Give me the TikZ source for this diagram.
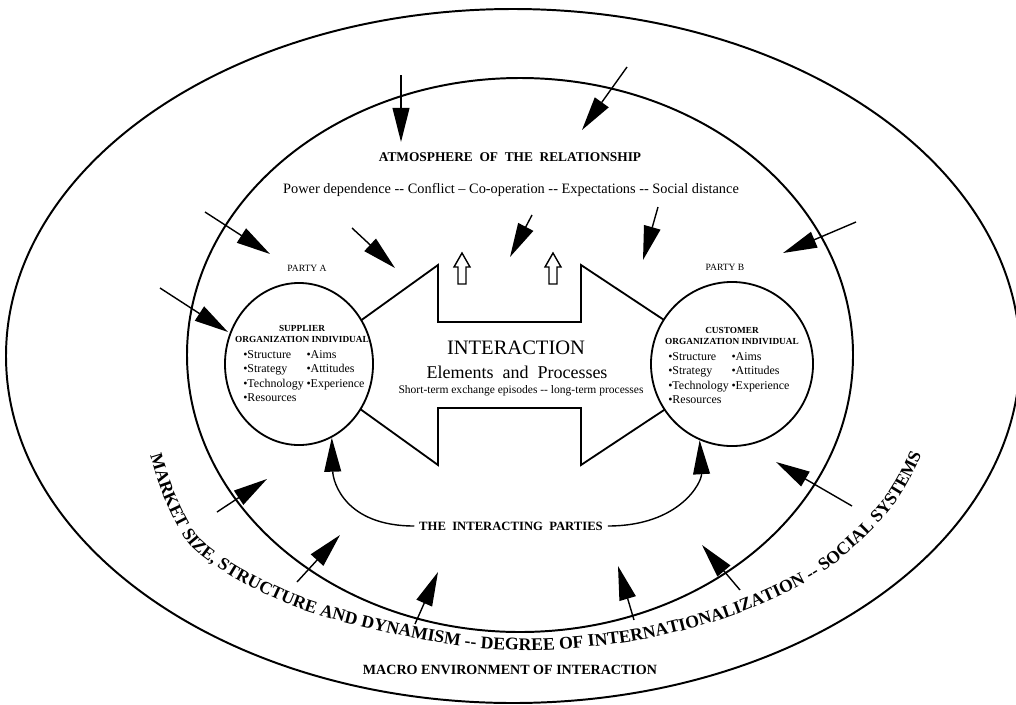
\documentclass[tikz,border=0pt]{standalone}
\usepackage{fontspec}
\setmainfont{Liberation Serif}
\usetikzlibrary{arrows.meta,decorations.text,shapes.geometric}

\newcommand\ringfont{\fontsize{12.6}{14}\selectfont\bfseries}

\begin{document}
\begin{tikzpicture}[x=0.025cm,y=-0.025cm,
    ring/.style={line width=1.4pt},
    party/.style={draw,ellipse,line width=1.3pt,fill=white,inner sep=0pt},
    infl/.style={line width=1pt,-{Triangle[length=0.85cm,width=0.42cm]}},
    small/.style={font=\fontsize{6.8}{8}\selectfont},
    head/.style={font=\fontsize{6.6}{7.3}\selectfont\bfseries,align=center},
    items/.style={font=\fontsize{8.5}{10.3}\selectfont,anchor=north west,inner sep=0pt}]
\useasboundingbox (0,0) rectangle (1016,704);

% environment and atmosphere
\draw[ring] (513,356) ellipse [x radius=507,y radius=347];
\draw[ring] (520,355) ellipse [x radius=333,y radius=277];

% the interaction arrow
\draw[line width=1.3pt] (299,365) -- (438,265) -- (438,322) -- (581,322) -- (581,265)
    -- (732,365) -- (581,465) -- (581,408) -- (438,408) -- (438,465) -- cycle;
\foreach \hx in {462,553}
    \draw[line width=1pt] (\hx,253) -- ++(8,14) -- ++(-4,0) -- ++(0,17) -- ++(-8,0)
        -- ++(0,-17) -- ++(-4,0) -- cycle;

% the parties
\node[party,minimum width=3.7cm,minimum height=4.05cm] (supplier) at (299,364) {};
\node[party,minimum width=4.05cm,minimum height=4.1cm] (customer) at (732,364) {};
\node[small] (labA) at (307,268) {PARTY A};
\node[small] (labB) at (725,267) {PARTY B};
\node[head] (headA) at (302,334) {SUPPLIER\\ORGANIZATION INDIVIDUAL};
\node[head] (headB) at (732,336) {CUSTOMER\\ORGANIZATION INDIVIDUAL};
\node[items] (listA) at (243,348) {\begin{tabular}{@{}l@{\hspace{2pt}}l@{}}
    •Structure&•Aims\\•Strategy&•Attitudes\\•Technology&•Experience\\•Resources&
    \end{tabular}};
\node[items] (listB) at (668,350) {\begin{tabular}{@{}l@{\hspace{2pt}}l@{}}
    •Structure&•Aims\\•Strategy&•Attitudes\\•Technology&•Experience\\•Resources&
    \end{tabular}};

% texts
\node[font=\fontsize{9.5}{11}\selectfont\bfseries] (atmos) at (510,157)
    {ATMOSPHERE\ \ OF\ \ THE\ \ RELATIONSHIP};
\node[font=\fontsize{10.2}{12}\selectfont] (climate) at (511,190)
    {Power dependence -{}- Conflict -- Co-operation -{}- Expectations -{}- Social distance};
\node[font=\fontsize{14.6}{16}\selectfont] (interaction) at (516,348) {INTERACTION};
\node[font=\fontsize{12.8}{14}\selectfont] (elements) at (517,372) {Elements\ \ and\ \ Processes};
\node[font=\fontsize{8.2}{9}\selectfont] (episodes) at (521,391)
    {Short-term exchange episodes -{}- long-term processes};
\node[font=\fontsize{9}{11}\selectfont\bfseries] (interacting) at (511,526)
    {THE\ \ INTERACTING\ \ PARTIES};
\node[font=\fontsize{10}{12}\selectfont\bfseries] (macro) at (510,670)
    {MACRO ENVIRONMENT OF INTERACTION};

% the interacting parties
\draw[infl] (interacting.west) .. controls (345,526) and (333,482) .. (supplier.-66);
\draw[infl] (interacting.east) .. controls (680,526) and (702,482) .. (customer.-113);

% influences
\foreach \sx/\sy/\ex/\ey [count=\i] in {401/75/401/142, 627/67/582/130,
    205/212/270/254, 160/288/228/332, 352/228/395/268, 532/215/510/257,
    658/207/643/260, 856/222/783/253, 217/512/267/479, 297/582/340/535,
    415/624/438/572, 634/620/618/566, 740/590/702/545, 852/506/776/462} {
  \coordinate (src\i) at (\sx,\sy);
  \coordinate (tip\i) at (\ex,\ey);
  \draw[infl] (src\i) -- (tip\i);
}

% macro environment
\begin{scope}[x=1cm,y=1cm]
\path[decorate,decoration={text along path,
    text={|\ringfont|MARKET SIZE{,} STRUCTURE AND DYNAMISM -- DEGREE OF INTERNATIONALIZATION -- SOCIAL SYSTEMS}}]
    plot[smooth] coordinates {(3.75,-11.375) (4.125,-12.5) (4.75,-13.625) (5.875,-14.45)
        (7.5,-15.225) (9.625,-15.8) (11.75,-16.175) (13.625,-16.25) (16,-16)
        (18.325,-15.375) (20.5,-14.35) (22.2,-12.8) (23.05,-11.3) (23.3,-10) (23.35,-8.5)};
\end{scope}
\end{tikzpicture}
\end{document}
